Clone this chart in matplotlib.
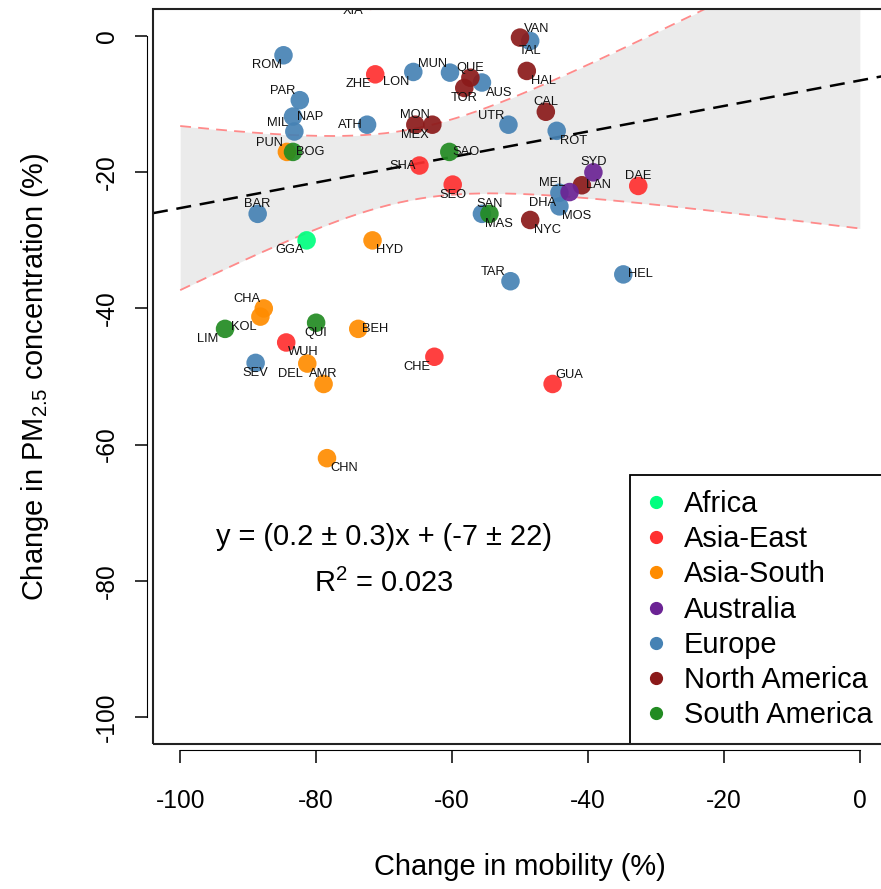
import numpy as np
import matplotlib
matplotlib.use("Agg")
import matplotlib.pyplot as plt
from matplotlib import font_manager
from matplotlib.lines import Line2D
from matplotlib.patches import Rectangle

# datos: ciudad, region, cambio de movilidad (%), cambio de PM2.5 (%)
cities = ["ROM", "LON", "MUN", "PAR", "NAP", "MIL", "ATH", "TAL", "AUS", "UTR",
          "ROT", "DHA", "MOS", "MAS", "TAR", "HEL", "BAR", "SEV",
          "GGA",
          "XIA", "ZHE", "SHA", "SEO", "DAE", "WUH", "CHE", "GUA",
          "PUN", "HYD", "CHA", "KOL", "BEH", "DEL", "AMR", "CHN",
          "VAN", "HAL", "QUE", "TOR", "CAL", "MON", "MEX", "LAN", "NYC",
          "SYD", "MEL",
          "BOG", "SAO", "SAN", "LIM", "QUI"]
region = (["Europe"] * 18 + ["Africa"] + ["Asia-East"] * 8 + ["Asia-South"] * 8
          + ["North America"] * 9 + ["Australia"] * 2 + ["South America"] * 5)
mobility = [-84.8, -65.7, -60.3, -82.4, -83.4, -83.2, -72.5, -48.5, -55.6, -51.7,
            -44.6, -44.2, -44.2, -55.6, -51.4, -34.8, -88.6, -88.9,
            -81.4,
            -72.0, -71.3, -64.8, -59.9, -32.6, -84.4, -62.6, -45.2,
            -84.3, -71.7, -87.7, -88.2, -73.8, -81.3, -78.9, -78.4,
            -50.0, -49.0, -57.3, -58.2, -46.2, -65.4, -62.9, -40.9, -48.5,
            -39.2, -42.7,
            -83.4, -60.4, -54.5, -93.4, -80.0]
pm25 = [-2.8, -5.25, -5.35, -9.4, -11.8, -14.0, -13.0, -0.7, -6.8, -13.0,
        -13.9, -23.0, -25.0, -26.1, -36.0, -35.0, -26.1, -48.0,
        -30.0,
        5.2, -5.6, -19.0, -21.8, -22.0, -45.0, -47.1, -51.1,
        -17.0, -30.0, -40.0, -41.2, -43.0, -48.1, -51.1, -62.0,
        -0.2, -5.1, -6.1, -7.6, -11.1, -13.0, -13.0, -21.9, -27.0,
        -20.0, -22.9,
        -17.0, -17.0, -26.1, -43.0, -42.1]

regions = ["Africa", "Asia-East", "Asia-South", "Australia", "Europe",
           "North America", "South America"]
region_colors = ["#00FF7F", "#FF3030", "#FF8C00", "#6B2394", "#4682B4",
                 "#8B1A1A", "#228B22"]

# resumen de la regresion (incluye ciudades fuera del rango)
fit_slope = 0.1875
fit_intercept = -6.5
fit_x_mean = -66.0
ci_at_mean = 5.2      # semiancho del IC 95% en la media de x
ci_slope = 0.32       # semiancho del IC 95% de la pendiente

# posicion de cada etiqueta respecto al punto
label_pos = ["SW", "SW", "NW", "NW", "E", "NW", "W", "S", "SE", "NW",
             "SE", "SW", "SE", "SE", "NW", "E", "N", "S",
             "SW",
             "SW", "SW", "W", "S", "N", "SE", "SW", "NE",
             "NW", "SE", "NW", "SW", "E", "SW", "N", "SE",
             "NE", "SE", "N", "S", "N", "N", "SW", "E", "SE",
             "N", "NW",
             "E", "E", "N", "SW", "S"]
offsets = {"N": (0, 10), "S": (0, -10), "E": (17, 0), "W": (-17, 0),
           "NE": (17, 9), "NW": (-17, 9), "SE": (17, -10), "SW": (-17, -10)}

names = {f.name for f in font_manager.fontManager.ttflist}
if "Liberation Sans Narrow" in names:
    family, k = "Liberation Sans Narrow", 1.0
else:
    family, k = "Liberation Sans", 0.82
plt.rcParams["font.family"] = family
plt.rcParams["mathtext.fontset"] = "custom"
plt.rcParams["mathtext.rm"] = family
plt.rcParams["axes.unicode_minus"] = False

x = np.array(mobility)
y = np.array(pm25)
color_of = dict(zip(regions, region_colors))
colors = [color_of[r] for r in region]

# banda de confianza al 95% de la recta
xb = np.linspace(-100, 0, 200)
yb = fit_slope * xb + fit_intercept
hw = np.sqrt(ci_at_mean ** 2 + (ci_slope * (xb - fit_x_mean)) ** 2)
upper = yb + hw
lower = yb - hw

fig = plt.figure(figsize=(8.81, 8.89), dpi=100)
ax = fig.add_axes([153 / 881, 145 / 889, 734 / 881, 735 / 889])
ax.set_xlim(-104, 4)
ax.set_ylim(-104, 4)

ax.fill_between(xb, lower, upper, color="#EBEBEB", lw=0, zorder=1)
ax.plot(xb, upper, color="#FF8A8A", lw=1.3, dashes=(6, 4), zorder=2)
ax.plot(xb, lower, color="#FF8A8A", lw=1.3, dashes=(6, 4), zorder=2)
ax.axline((0, fit_intercept), slope=fit_slope, color="black", lw=1.8,
          dashes=(6, 3.5), zorder=2)

ax.scatter(x, y, s=178, c=colors, alpha=0.92, lw=0, zorder=3)

for name, xi, yi, p in zip(cities, x, y, label_pos):
    ax.annotate(name, (xi, yi), xytext=offsets[p], textcoords="offset pixels",
                ha="center", va="center", fontsize=11.3 * k, color="#111111",
                zorder=4, clip_on=True, annotation_clip=False)

ax.text(-70, -73.6, "y = (0.2 ± 0.3)x + (-7 ± 22)", ha="center", va="center",
        fontsize=25.5 * k)
ax.text(-70, -80.4, "R$^\\mathregular{2}$ = 0.023", ha="center", va="center",
        fontsize=25.5 * k)

handles = [Line2D([], [], marker="o", ls="", color=c, markersize=8.5) for c in region_colors]
leg = ax.legend(handles, regions, loc="lower right", bbox_to_anchor=(1, 0),
                borderaxespad=0, fontsize=25.5 * k, frameon=True, fancybox=False,
                edgecolor="black", framealpha=1, handlelength=0.8,
                handletextpad=0.57, borderpad=0.5, labelspacing=0.25)
leg.get_frame().set_linewidth(1.3)
leg.set_zorder(5)

# caja del grafico y ejes estilo R
ax.add_patch(Rectangle((0, 0), 1, 1, transform=ax.transAxes, fill=False,
                       lw=1.5, ec="#222222", clip_on=False, zorder=6))
for side in ["top", "right"]:
    ax.spines[side].set_visible(False)
ax.spines["left"].set_position(("outward", 4.3))
ax.spines["bottom"].set_position(("outward", 4.3))
ax.spines["left"].set_bounds(-100, 0)
ax.spines["bottom"].set_bounds(-100, 0)
ax.set_xticks(np.arange(-100, 1, 20))
ax.set_yticks(np.arange(-100, 1, 20))
ax.tick_params(direction="out", length=9, width=1.1, labelsize=21.6 * k)
ax.tick_params(axis="x", pad=19)
ax.tick_params(axis="y", pad=11)
plt.setp(ax.get_yticklabels(), rotation=90, va="center")

ax.set_xlabel("Change in mobility (%)", fontsize=25.5 * k, labelpad=29)
ax.set_ylabel("Change in PM$_\\mathregular{2.5}$ concentration (%)",
              fontsize=25.5 * k, labelpad=32)

fig.savefig("out.png", dpi=100)
